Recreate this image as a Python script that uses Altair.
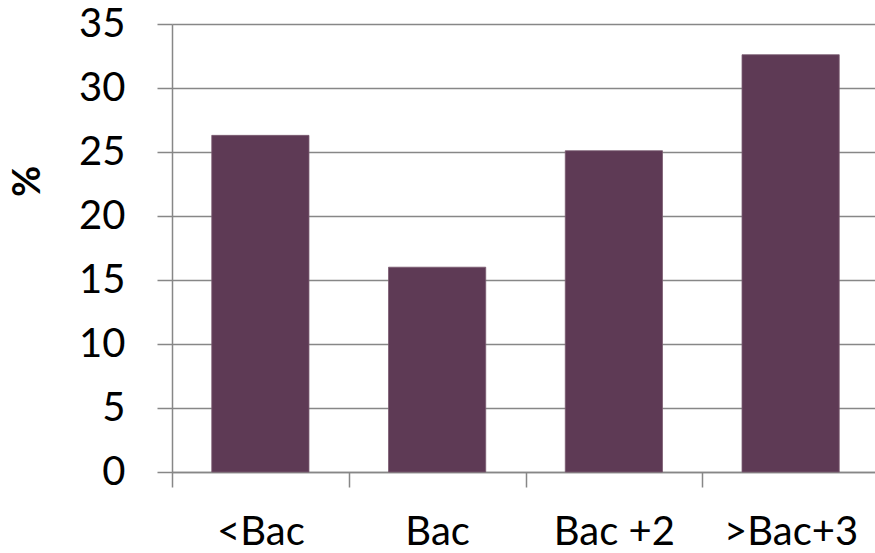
import altair as alt
import pandas as pd

categories = ["<Bac", "Bac", "Bac +2", ">Bac+3"]
values = [26.3, 16.0, 25.1, 32.6]
y_ticks = [0, 5, 10, 15, 20, 25, 30, 35]

df = pd.DataFrame({"cat": categories, "val": values})

FONT = "Lato"
GRAY = "#878787"

chart = alt.Chart(df).mark_bar(
    color="#5E3A55", stroke="#7a5a70", strokeWidth=0.8
).encode(
    x=alt.X("cat:N", sort=categories, title=None,
            scale=alt.Scale(paddingInner=0.45, paddingOuter=0.225, range=[0, 707]),
            axis=alt.Axis(labelAngle=0, labelFont=FONT, labelFontSize=40,
                          labelColor="#000000", labelBaseline="alphabetic",
                          labelPadding=57, labelOffset=88.375, tickSize=15,
                          tickColor=GRAY, tickWidth=1.5, tickOffset=-88.375,
                          domain=True, domainColor=GRAY, domainWidth=1.5,
                          grid=False)),
    y=alt.Y("val:Q", title="%",
            scale=alt.Scale(domain=[0, 35], nice=False),
            axis=alt.Axis(values=y_ticks, labelFont=FONT, labelFontSize=40,
                          labelColor="#000000", labelPadding=32, tickSize=15,
                          tickColor=GRAY, tickWidth=1.5, domainColor=GRAY,
                          domainWidth=1.5, grid=True, gridColor=GRAY,
                          gridWidth=1.5, titleFont=FONT, titleFontSize=38,
                          titleFontWeight="bold", titleColor="#000000",
                          titleAngle=270, titleAlign="center",
                          titleBaseline="middle", titleX=-144, titleY=157)),
).properties(
    width=703, height=448,
    padding={"left": 172, "top": 24, "right": 0, "bottom": 81},
    autosize=alt.AutoSizeParams(type="none"),
).configure_view(stroke=None).configure(background="white")

chart.save("out.html", embed_options={"renderer": "svg", "actions": False})
